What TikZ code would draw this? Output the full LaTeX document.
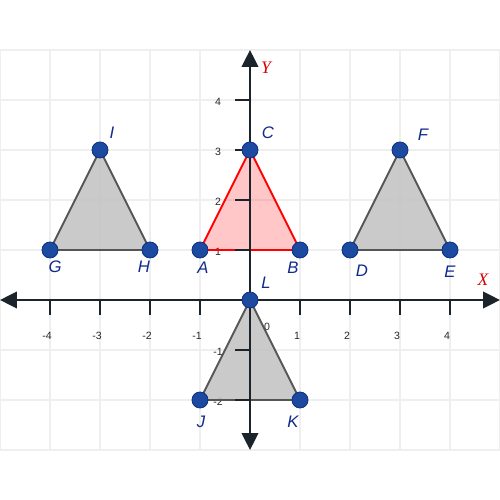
\documentclass[tikz,border=0pt]{standalone}
\usepackage{fontspec}
\setmainfont{Liberation Sans}
\newfontfamily\axisfont{Liberation Serif}
\usetikzlibrary{arrows.meta}
\begin{document}
\begin{tikzpicture}[dot/.style={circle,fill=dotblue,draw=dotedge,line width=0.5pt,inner sep=0pt,minimum size=0.32cm},
  ptlabel/.style={text=labelblue,font=\itshape\fontsize{9.5}{11}\selectfont},
  ticklabel/.style={text=black!85,font=\fontsize{6}{7}\selectfont},
  axislabel/.style={text=red!85!black,font=\axisfont\itshape\fontsize{10}{11}\selectfont},
  axis/.style={draw=axisdark,line width=1.5pt,{Triangle[length=0.34cm,width=0.33cm]}-{Triangle[length=0.34cm,width=0.33cm]}}]
\definecolor{gridgray}{HTML}{EFEFEF}
\definecolor{dotblue}{HTML}{1C4AA0}
\definecolor{dotedge}{HTML}{0F3282}
\definecolor{labelblue}{HTML}{102A8A}
\definecolor{axisdark}{HTML}{1B242B}
\definecolor{shapegray}{HTML}{C4C4C4}
\definecolor{edgegray}{HTML}{555555}
\useasboundingbox (-5,-4) rectangle (5,6);
\draw[gridgray,line width=0.85pt] (-5,-3) grid (5,5);
  \foreach \x in {-4,-3,-2,-1,1,2,3,4}
  {  \node [ticklabel] (xl\x) at (\x-0.06,-0.72) {\x};}
  \foreach \y in {-2,-1,1,2,3,4}
  {  \node [ticklabel] (yl\y) at (-0.64,\y-0.04) {\y};}
\node [ticklabel] (zero) at (0.34,-0.54) {0};
  \foreach \name/\x/\y in {A/-1/1,B/1/1,C/0/3,D/2/1,E/4/1,F/3/3,G/-4/1,H/-2/1,I/-3/3,J/-1/-2,K/1/-2,L/0/0}
  {  \coordinate (\name) at (\x,\y);}
  \foreach \p/\q/\r in {D/E/F,G/H/I,J/K/L}
  {  \filldraw [fill=shapegray,fill opacity=0.9,draw=edgegray,line width=1.1pt] (\p) -- (\q) -- (\r) -- cycle;}
\filldraw [fill=red,fill opacity=0.22,draw=red,line width=1.1pt] (A) -- (B) -- (C) -- cycle;
\coordinate (xmin) at (-5,0);
\coordinate (xmax) at (5,0);
\coordinate (ymin) at (0,-3);
\coordinate (ymax) at (0,5);
\draw [axis] (xmin) -- (xmax);
\draw [axis] (ymin) -- (ymax);
  \foreach \x in {-4,-3,-2,-1,1,2,3,4}
  {  \draw [axisdark,line width=1.4pt] (\x,0) -- (\x,-0.3);}
  \foreach \y in {-2,-1,1,2,3,4}
  {  \draw [axisdark,line width=1.4pt] (0,\y) -- (-0.3,\y);}
\node [axislabel] (xlabel) at (4.66,0.4) {X};
\node [axislabel] (ylabel) at (0.32,4.64) {Y};
  \foreach \name/\dx/\dy in {A/0.06/-0.36,B/-0.14/-0.36,C/0.36/0.34,D/0.24/-0.42,E/0/-0.44,F/0.46/0.3,G/0.1/-0.34,H/-0.12/-0.34,I/0.24/0.34,J/0.02/-0.44,K/-0.14/-0.44,L/0.32/0.34}
  {  \node [dot] (\name dot) at (\name) {};
     \path (\name) ++(\dx,\dy) node [ptlabel] (\name lbl) {\name};}
\end{tikzpicture}
\end{document}
